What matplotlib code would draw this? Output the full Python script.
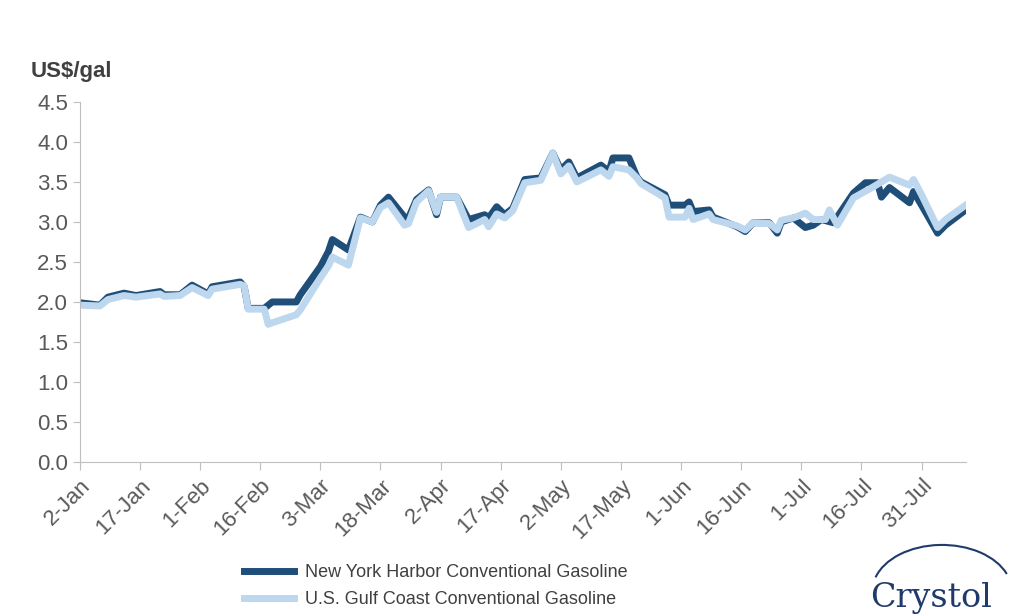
import datetime as dt
import matplotlib
matplotlib.use('Agg')
import matplotlib.pyplot as plt
import matplotlib.dates as mdates
from matplotlib.patches import Arc

plt.rcParams['font.family'] = ['Liberation Sans', 'DejaVu Sans']

start = dt.date(2022, 1, 2)

# (day offset from 2-Jan, US$/gal)
ny_points = [(0, 1.99), (5, 1.96), (7, 2.06), (11, 2.11), (14, 2.08), (20, 2.13), (21, 2.09),
             (25, 2.09), (28, 2.21), (32, 2.10), (33, 2.19), (40, 2.25), (41, 2.19), (42, 1.92),
             (46, 1.92), (48, 2.00), (54, 2.00), (55, 2.09), (60, 2.44), (62, 2.63), (63, 2.78),
             (67, 2.65), (70, 3.06), (73, 3.00), (75, 3.21), (77, 3.31), (81, 3.06), (82, 3.05),
             (84, 3.28), (87, 3.40), (89, 3.09), (90, 3.31), (94, 3.31), (97, 3.03), (101, 3.09),
             (102, 3.05), (104, 3.19), (106, 3.09), (108, 3.17), (111, 3.53), (115, 3.55),
             (118, 3.86), (120, 3.65), (122, 3.75), (124, 3.55), (130, 3.71), (132, 3.63),
             (133, 3.80), (137, 3.80), (139, 3.56), (140, 3.50), (146, 3.34), (147, 3.21),
             (151, 3.21), (152, 3.25), (153, 3.13), (157, 3.15), (158, 3.06), (164, 2.94),
             (166, 2.88), (168, 2.99), (172, 2.99), (174, 2.86), (175, 3.00), (178, 3.05),
             (181, 2.93), (183, 2.96), (185, 3.03), (188, 2.99), (193, 3.36), (196, 3.49),
             (199, 3.49), (200, 3.31), (202, 3.43), (207, 3.24), (208, 3.38), (210, 3.21),
             (214, 2.86), (216, 2.96), (221, 3.15)]

gc_points = [(0, 1.96), (5, 1.95), (7, 2.03), (11, 2.08), (14, 2.06), (20, 2.10), (21, 2.07),
             (25, 2.08), (28, 2.18), (32, 2.08), (33, 2.16), (40, 2.22), (41, 2.20), (42, 1.91),
             (46, 1.91), (47, 1.72), (48, 1.74), (54, 1.84), (55, 1.90), (60, 2.30), (62, 2.45),
             (63, 2.56), (67, 2.46), (70, 3.05), (73, 3.00), (75, 3.18), (77, 3.24), (81, 2.96),
             (82, 2.98), (84, 3.25), (87, 3.39), (89, 3.12), (90, 3.31), (94, 3.31), (97, 2.93),
             (101, 3.03), (102, 2.94), (104, 3.10), (106, 3.05), (108, 3.14), (111, 3.49),
             (115, 3.52), (118, 3.86), (120, 3.60), (122, 3.70), (124, 3.50), (130, 3.65),
             (132, 3.57), (133, 3.69), (137, 3.65), (139, 3.55), (140, 3.48), (146, 3.30),
             (147, 3.06), (151, 3.06), (152, 3.17), (153, 3.03), (157, 3.10), (158, 3.03),
             (164, 2.95), (166, 2.90), (168, 2.99), (172, 2.98), (174, 2.90), (175, 3.02),
             (178, 3.05), (181, 3.11), (183, 3.03), (186, 3.03), (187, 3.15), (189, 2.96),
             (193, 3.30), (198, 3.44), (202, 3.56), (207, 3.46), (208, 3.53), (210, 3.34),
             (214, 2.93), (216, 3.03), (221, 3.21)]

ny_dates = [start + dt.timedelta(days=d) for d, v in ny_points]
ny_vals = [v for d, v in ny_points]
gc_dates = [start + dt.timedelta(days=d) for d, v in gc_points]
gc_vals = [v for d, v in gc_points]

x_ticks = [start + dt.timedelta(days=15 * i) for i in range(15)]
y_ticks = [0.5 * i for i in range(10)]

fig = plt.figure(figsize=(10.24, 6.14), dpi=100)
ax = fig.add_axes([0.078, 0.2476, 0.865, 0.5864])

ax.plot(ny_dates, ny_vals, color='#1f4e79', lw=5, solid_joinstyle='round',
        label='New York Harbor Conventional Gasoline')
ax.plot(gc_dates, gc_vals, color='#bdd7ee', lw=5, solid_joinstyle='round',
        label='U.S. Gulf Coast Conventional Gasoline')

ax.set_ylim(0, 4.5)
ax.set_yticks(y_ticks)
ax.set_yticklabels(['%.1f' % v for v in y_ticks])
ax.set_xlim(start, start + dt.timedelta(days=221))
ax.set_xticks(x_ticks)
ax.xaxis.set_major_formatter(mdates.DateFormatter('%-d-%b'))
plt.setp(ax.get_xticklabels(), rotation=45, ha='right', rotation_mode='anchor')

for spine in ['top', 'right']:
    ax.spines[spine].set_visible(False)
for spine in ['left', 'bottom']:
    ax.spines[spine].set_color('#bfbfbf')
ax.tick_params(axis='both', colors='#595959', labelsize=16)
ax.tick_params(axis='x', color='#bfbfbf', length=6, direction='out')
ax.tick_params(axis='y', color='#bfbfbf', length=5)

fig.text(0.030, 0.875, 'US$/gal', fontsize=16, fontweight='bold', color='#404040')

fig.legend(loc='lower left', bbox_to_anchor=(0.222, -0.017), frameon=False, fontsize=13,
           handlelength=2.8, handletextpad=0.6, labelcolor='#404040', labelspacing=0.55)

# logo
fig.text(0.85, 0.012, 'Crystol', fontsize=24, family='DejaVu Serif', color='#1f3a6b')
logo = fig.add_axes([0.84, 0.0, 0.16, 0.15])
logo.axis('off')
logo.set_xlim(0, 1)
logo.set_ylim(0, 1)
logo.add_patch(Arc((0.5, 0.25), 0.85, 1.0, theta1=25, theta2=160, color='#1f3a6b', lw=1.5))

fig.savefig('out.png', dpi=100)
